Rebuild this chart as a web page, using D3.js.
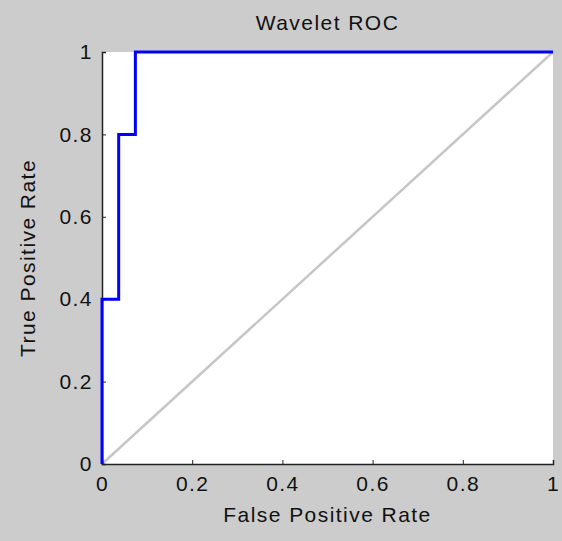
<!DOCTYPE html>
<html>
<head>
<meta charset="utf-8">
<script src="https://cdn.jsdelivr.net/npm/d3@7"></script>
<style>
  body { margin: 0; background: #cccccc; }
  text { font-family: Arial, "Liberation Sans", sans-serif; fill: #111; letter-spacing: 1.45px; }
</style>
</head>
<body>
<div id="chart"></div>
<script>
// ROC curve points (false positive rate, true positive rate)
var fpr = [0, 0, 0.037, 0.037, 0.074, 0.074, 1];
var tpr = [0, 0.4, 0.4, 0.8, 0.8, 1, 1];
var diagonal = [0, 1];
var xTicks = [0, 0.2, 0.4, 0.6, 0.8, 1];
var yTicks = [0, 0.2, 0.4, 0.6, 0.8, 1];

var W = 562, H = 541;
var margin = {top: 52, right: 9, bottom: 77, left: 102};
var width = W - margin.left - margin.right,
    height = H - margin.top - margin.bottom;

var svg = d3.select("#chart")
  .append("svg")
  .attr("width", W)
  .attr("height", H);

svg.append("rect").attr("width", W).attr("height", H).attr("fill", "#cccccc");

var g = svg.append("g")
  .attr("transform", "translate(" + margin.left + "," + margin.top + ")");

var x = d3.scaleLinear().domain([0, 1]).range([0, width]);
var y = d3.scaleLinear().domain([0, 1]).range([height, 0]);

// plot area
g.append("rect")
  .attr("width", width)
  .attr("height", height)
  .attr("fill", "#ffffff");

// diagonal reference line
g.append("line")
  .attr("x1", x(diagonal[0])).attr("y1", y(diagonal[0]))
  .attr("x2", x(diagonal[1])).attr("y2", y(diagonal[1]))
  .attr("stroke", "#c6c6c6")
  .attr("stroke-width", 2.5);

// axes (ticks point inward)
var fmt = function(d) { return d === 0 || d === 1 ? d : d3.format(".1f")(d); };
var xAxis = g.append("g")
  .attr("transform", "translate(0," + height + ")")
  .call(d3.axisBottom(x).tickValues(xTicks).tickSize(-4).tickPadding(12).tickFormat(fmt));
var yAxis = g.append("g")
  .call(d3.axisLeft(y).tickValues(yTicks).tickSize(-4).tickPadding(9).tickFormat(fmt));

[xAxis, yAxis].forEach(function(a) {
  a.select(".domain").attr("stroke", "#222").attr("stroke-width", 1.5);
  a.selectAll(".tick line").attr("stroke", "#222");
  a.selectAll("text").style("font-size", "21px").attr("fill", "#111");
});

// ROC step line
var line = d3.line()
  .x(function(d, i) { return x(fpr[i]); })
  .y(function(d, i) { return y(tpr[i]); });

g.append("path")
  .datum(fpr)
  .attr("d", line)
  .attr("fill", "none")
  .attr("stroke", "#0000ff")
  .attr("stroke-width", 3);

// title and labels
svg.append("text")
  .attr("x", margin.left + width / 2)
  .attr("y", 30)
  .attr("text-anchor", "middle")
  .style("font-size", "21px")
  .text("Wavelet ROC");

svg.append("text")
  .attr("x", margin.left + width / 2)
  .attr("y", 522)
  .attr("text-anchor", "middle")
  .style("font-size", "21px")
  .text("False Positive Rate");

svg.append("text")
  .attr("transform", "translate(35," + (margin.top + height / 2) + ") rotate(-90)")
  .attr("text-anchor", "middle")
  .style("font-size", "21px")
  .text("True Positive Rate");
</script>
</body>
</html>
